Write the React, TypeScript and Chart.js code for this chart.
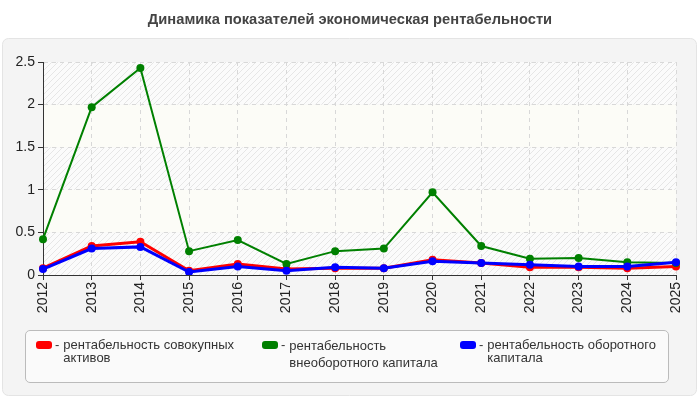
import React, { useEffect, useRef } from "react";
import { Chart, registerables } from "chart.js";

Chart.register(...registerables);

const years = ["2012","2013","2014","2015","2016","2017","2018","2019","2020","2021","2022","2023","2024","2025"];
const totalAssets = [0.08,0.34,0.39,0.05,0.13,0.07,0.08,0.08,0.18,0.14,0.09,0.09,0.08,0.10];
const nonCurrent = [0.42,1.97,2.43,0.28,0.41,0.13,0.28,0.31,0.97,0.34,0.19,0.20,0.15,0.14];
const working = [0.07,0.31,0.33,0.035,0.10,0.05,0.09,0.08,0.16,0.14,0.12,0.10,0.10,0.15];
const yTicks = [0, 0.5, 1, 1.5, 2, 2.5];

const titleText = "Динамика показателей экономическая рентабельности";
const legendItems = [
  { color: "#ff0000", label: "рентабельность совокупных активов" },
  { color: "#008000", label: "рентабельность внеоборотного капитала" },
  { color: "#0000ff", label: "рентабельность оборотного капитала" },
];

function makeHatch(ctx: CanvasRenderingContext2D) {
  const c = document.createElement("canvas");
  c.width = 6; c.height = 6;
  const g = c.getContext("2d")!;
  g.fillStyle = "#fbfbfb";
  g.fillRect(0, 0, 6, 6);
  g.strokeStyle = "#e6e6e6";
  g.lineWidth = 1;
  g.beginPath();
  g.moveTo(0, 6); g.lineTo(6, 0);
  g.moveTo(-1, 1); g.lineTo(1, -1);
  g.moveTo(5, 7); g.lineTo(7, 5);
  g.stroke();
  return ctx.createPattern(c, "repeat")!;
}

const bgPlugin = {
  id: "bgPlugin",
  beforeDraw(chart: any) {
    const ctx = chart.ctx as CanvasRenderingContext2D;
    ctx.save();
    ctx.fillStyle = "#ffffff";
    ctx.fillRect(0, 0, chart.width, chart.height);
    ctx.beginPath();
    (ctx as any).roundRect(2.5, 38.5, 694, 357, 6);
    ctx.fillStyle = "#f4f4f4";
    ctx.fill();
    ctx.strokeStyle = "#e4e4e4";
    ctx.lineWidth = 1;
    ctx.stroke();
    ctx.fillStyle = "#444444";
    ctx.font = "bold 14.7px 'Liberation Sans'";
    ctx.textAlign = "center";
    ctx.textBaseline = "middle";
    ctx.fillText(titleText, 350, 20);
    const area = chart.chartArea;
    const ys = chart.scales.y;
    const hatch = makeHatch(ctx);
    for (let i = 0; i < yTicks.length - 1; i++) {
      const top = ys.getPixelForValue(yTicks[i + 1]);
      const bot = ys.getPixelForValue(yTicks[i]);
      ctx.fillStyle = i % 2 === 0 ? hatch : "#fcfcf7";
      ctx.fillRect(area.left, top, area.right - area.left, bot - top);
    }
    ctx.restore();
  },
};

export default function App() {
  const ref = useRef<HTMLCanvasElement>(null);
  useEffect(() => {
    const chart = new Chart(ref.current!, {
      type: "line",
      data: {
        labels: years,
        datasets: [
          { label: legendItems[0].label, data: totalAssets, borderColor: "#ff0000", backgroundColor: "#ff0000", borderWidth: 3, pointRadius: 4, pointBorderWidth: 0, order: 2, tension: 0 },
          { label: legendItems[1].label, data: nonCurrent, borderColor: "#008000", backgroundColor: "#008000", borderWidth: 2, pointRadius: 4, pointBorderWidth: 0, order: 1, tension: 0 },
          { label: legendItems[2].label, data: working, borderColor: "#0000ff", backgroundColor: "#0000ff", borderWidth: 3, pointRadius: 4, pointBorderWidth: 0, order: 0, tension: 0 },
        ],
      },
      options: {
        animation: false,
        responsive: false,
        maintainAspectRatio: false,
        layout: { padding: { left: 0, right: 24, top: 62, bottom: 75 } },
        plugins: { legend: { display: false }, tooltip: { enabled: false }, title: { display: false } },
        scales: {
          x: {
            offset: false,
            grid: { color: "#d8d8d8", tickColor: "#333333", tickLength: 5, drawTicks: true },
            border: { display: true, color: "#333333", dash: [4, 4] },
            ticks: { color: "#222222", font: { family: "'Liberation Sans'", size: 14 }, minRotation: 90, maxRotation: 90, padding: 2, autoSkip: false },
            afterFit(scale: any) { scale.height = 50; },
          },
          y: {
            min: 0,
            max: 2.5,
            grid: { color: "#d8d8d8", tickColor: "#333333", tickLength: 5 },
            border: { display: true, color: "#333333", dash: [4, 4] },
            ticks: {
              stepSize: 0.5, color: "#222222", font: { family: "'Liberation Sans'", size: 14 }, padding: 3,
              callback: (v: any) => String(Number(v)),
            },
            afterFit(scale: any) { scale.width = 43; },
          },
        },
      },
      plugins: [bgPlugin],
    });
    return () => chart.destroy();
  }, []);

  const itemLeft = [36, 262, 460];
  const textWidth = [180, 160, 190];
  const lineHeights = ["13px", "17px", "13px"];
  return (
    <div style={{ position: "fixed", left: 0, top: 0, width: 700, height: 400, background: "#fff" }}>
      <canvas ref={ref} width={700} height={400} style={{ position: "absolute", left: 0, top: 0 }} />
      <div
        style={{
          position: "absolute", left: 25, top: 330, width: 644, height: 53,
          border: "1px solid #bbbbbb", borderRadius: 5, background: "#fafafa", boxSizing: "border-box",
        }}
      />
      {legendItems.map((it, i) => (
        <div key={i} style={{ position: "absolute", left: itemLeft[i], top: 338, display: "flex", alignItems: "flex-start", fontFamily: "'Liberation Sans', Arial, sans-serif", fontSize: 13, color: "#333", lineHeight: lineHeights[i] }}>
          <div style={{ width: 16, height: 8, background: it.color, borderRadius: 3, marginTop: 3 }} />
          <div style={{ marginLeft: 3, marginRight: 4, lineHeight: "14px" }}>-</div>
          <div style={{ width: textWidth[i], marginTop: i === 1 ? -1 : 0 }}>{it.label}</div>
        </div>
      ))}
    </div>
  );
}
